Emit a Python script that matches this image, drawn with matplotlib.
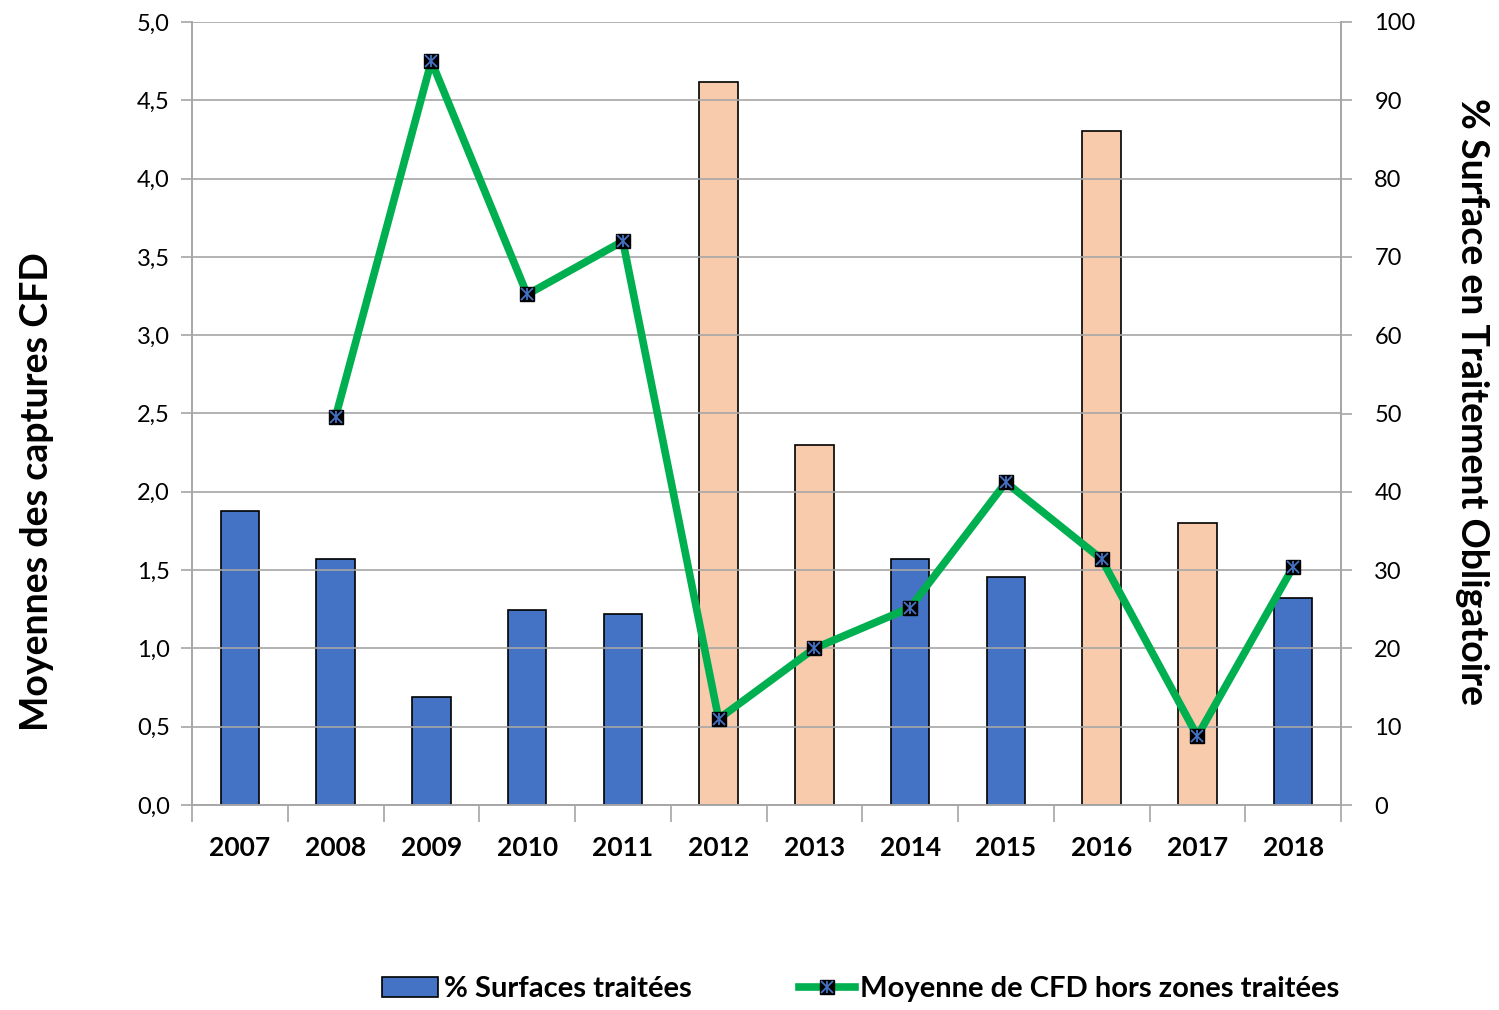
import matplotlib.pyplot as plt
import numpy as np

plt.rcParams['font.family'] = ['Lato', 'DejaVu Sans']

years = ['2007', '2008', '2009', '2010', '2011', '2012',
         '2013', '2014', '2015', '2016', '2017', '2018']
surf_pct = [37.5, 31.4, 13.8, 24.9, 24.4, 92.3, 46.0, 31.4, 29.1, 86.1, 36.0, 26.4]
peach_years = ['2012', '2013', '2016', '2017']
cfd_mean = [np.nan, 2.48, 4.75, 3.26, 3.60, 0.55, 1.00, 1.26, 2.06, 1.57, 0.44, 1.52]

blue = '#4472C4'
peach = '#F8CBAD'
green = '#00B050'
grey = '#A6A6A6'

x = np.arange(len(years))
colors = [peach if y in peach_years else blue for y in years]

W, H = 1499, 1010
fig = plt.figure(figsize=(W / 100, H / 100), dpi=100)
ax = fig.add_axes([192/W, 1 - 805/H, 1149/W, 783/H])
ax2 = ax.twinx()

# bars on the right axis (percent), line on the left axis
ax2.bar(x, surf_pct, width=0.4, color=colors, edgecolor='black', linewidth=1.2, zorder=2)
ax2.set_ylim(0, 100)
ax2.set_yticks(range(0, 101, 10))

ax.set_zorder(ax2.get_zorder() + 1)
ax.patch.set_visible(False)
ln, = ax.plot(x, cfd_mean, color=green, lw=5.5, zorder=3)
mk, = ax.plot(x, cfd_mean, ls='', marker='s', ms=10, mfc='black', mec='black', zorder=4)
mx, = ax.plot(x, cfd_mean, ls='', marker='x', ms=8, mew=1.3, color=blue, zorder=5)
mv, = ax.plot(x, cfd_mean, ls='', marker='|', ms=8, mew=1.3, color=blue, zorder=5)
ax.set_ylim(0, 5)
ax.set_yticks(np.arange(0, 5.01, 0.5))
ax.set_yticklabels([f'{v:.1f}'.replace('.', ',') for v in np.arange(0, 5.01, 0.5)])
ax.set_xlim(-0.5, len(years) - 0.5)

# grid on the left axis
for v in np.arange(0.5, 5.01, 0.5):
    ax.axhline(v, color=grey, lw=1.2, zorder=0)

ax.set_xticks(x)
ax.set_xticklabels(years, fontsize=19, fontweight='bold')
ax.set_xticks(np.arange(-0.5, len(years), 1), minor=True)
ax.tick_params(axis='x', which='major', length=0, pad=22)
ax.tick_params(axis='x', which='minor', length=12, color=grey, width=1.2)
ax.tick_params(axis='y', length=8, color=grey, width=1.2, labelsize=17, pad=8)
ax2.tick_params(axis='y', length=8, color=grey, width=1.2, labelsize=17, pad=16)

for a in (ax, ax2):
    a.spines['top'].set_visible(False)
    for side in ('left', 'right', 'bottom'):
        a.spines[side].set_color(grey)
        a.spines[side].set_linewidth(1.2)

fig.text(37/W, 1 - 492/H, 'Moyennes des captures CFD', fontsize=27, fontweight='bold',
         rotation=90, ha='center', va='center')
fig.text(1472/W, 1 - 401/H, '% Surface en Traitement Obligatoire', fontsize=27,
         fontweight='bold', rotation=-90, ha='center', va='center')

bar_handle = plt.Rectangle((0, 0), 1, 1, fc=blue, ec='black', lw=1.2)
fig.legend([bar_handle, (ln, mk, mx, mv)],
           ['% Surfaces traitées', 'Moyenne de CFD hors zones traitées'],
           loc='center', bbox_to_anchor=(861/W, 1 - 989/H), ncol=2,
           frameon=False, prop={'size': 21, 'weight': 'bold'},
           handlelength=1.9, handletextpad=0.2, columnspacing=3.7)

fig.savefig('out.png', dpi=100)
